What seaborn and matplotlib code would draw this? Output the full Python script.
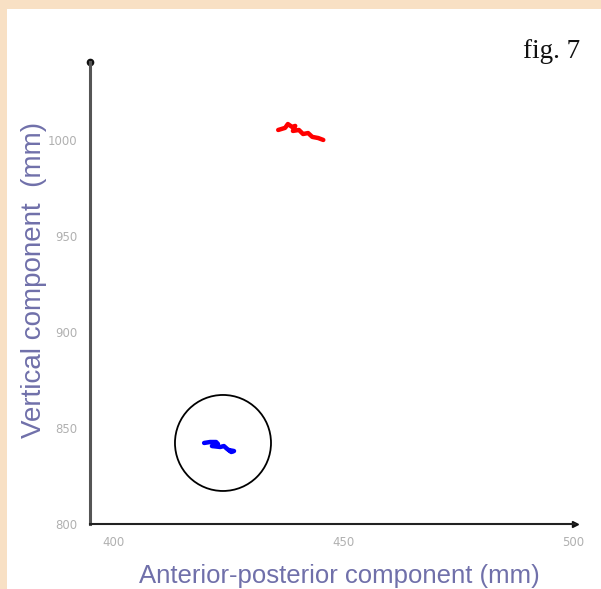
import numpy as np
import pandas as pd
import seaborn as sns
import matplotlib.pyplot as plt
from matplotlib.patches import Ellipse, Rectangle

# trace of the centre of pressure (mm)
red_x = [435.9, 437.4, 438.0, 438.9, 439.6, 439.1, 440.4, 441.3, 442.4, 443.3, 444.6, 445.7]
red_y = [1005.2, 1006.3, 1008.3, 1006.8, 1007.3, 1004.7, 1005.2, 1003.1, 1003.6, 1001.6, 1001.0, 1000.0]
blue_x = [419.8, 421.1, 422.4, 422.8, 421.5, 423.3, 424.1, 424.8, 425.7, 426.3, 425.2]
blue_y = [842.2, 842.7, 842.7, 841.7, 840.6, 840.1, 840.6, 839.1, 837.5, 838.0, 838.5]

x_ticks = [400, 450, 500]
y_ticks = [800, 850, 900, 950, 1000]

sns.set_style("white")

W, H = 601, 589
fig = plt.figure(figsize=(W / 100, H / 100), dpi=100)
fig.patch.set_facecolor("#f8e0c4")
fig.patches.append(Rectangle((7 / W, 0), 1, 1 - 9 / H, transform=fig.transFigure,
                             facecolor="white", edgecolor="none", zorder=-5))

ax = fig.add_axes([90 / W, 1 - 524 / H, (575 - 90) / W, (524 - 62) / H])
ax.set_facecolor("none")
ax.set_zorder(2)

red = pd.DataFrame({"x": red_x, "y": red_y})
blue = pd.DataFrame({"x": blue_x, "y": blue_y})
sns.lineplot(data=red, x="x", y="y", sort=False, estimator=None, color="#ff0000", lw=3.2, ax=ax)
sns.lineplot(data=blue, x="x", y="y", sort=False, estimator=None, color="#0000ff", lw=3.2, ax=ax)

# circle round the blue trace
ax.add_patch(Ellipse((423.9, 842.2), 96 / 4.6, 96 / 1.92, fill=False, edgecolor="black", lw=1.3))

ax.set_xlim(395.0, 500.4)
ax.set_ylim(800, 1040.6)
ax.set_xticks(x_ticks)
ax.set_yticks(y_ticks)
ax.tick_params(axis="both", direction="out", length=2, width=1.5, color="#222222",
               labelsize=8.5, labelcolor="#b0b0b0", pad=7)
for lab in ax.get_xticklabels() + ax.get_yticklabels():
    lab.set_family("DejaVu Sans")

for s in ["top", "right"]:
    ax.spines[s].set_visible(False)
ax.spines["left"].set_color("#555555")
ax.spines["left"].set_linewidth(2.2)
ax.spines["bottom"].set_color("#222222")
ax.spines["bottom"].set_linewidth(1.5)
ax.plot(0, 1, marker="o", color="#111111", ms=4.5, transform=ax.transAxes, clip_on=False)
ax.plot(1, 0, marker=">", color="#111111", ms=5, transform=ax.transAxes, clip_on=False)

ax.set_xlabel("")
ax.set_ylabel("")
fig.text(34 / W, 1 - 280 / H, "Vertical component  (mm)", rotation=90, ha="center", va="center",
         family="Liberation Sans", fontsize=20, color="#7070aa")
fig.text(339 / W, 1 - 588 / H, "Anterior-posterior component (mm)", ha="center", va="bottom",
         family="Liberation Sans", fontsize=18.5, color="#7070aa")
fig.text(580 / W, 1 - 58 / H, "fig. 7", ha="right", va="baseline",
         family="Liberation Serif", fontsize=19.5, color="#111111")

fig.savefig("out.png", dpi=100)
